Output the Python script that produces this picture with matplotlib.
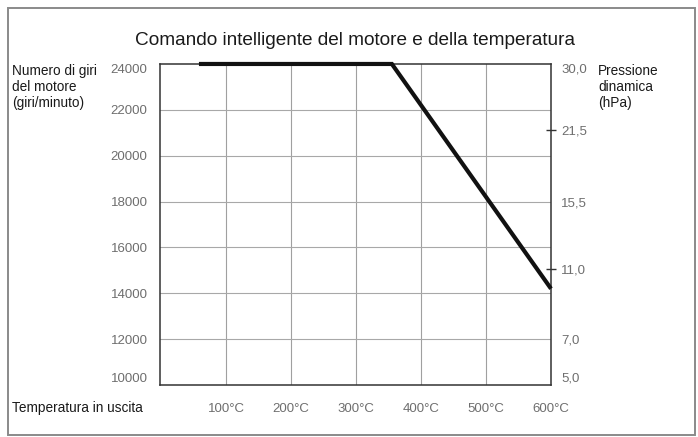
import matplotlib.pyplot as plt
from matplotlib.patches import Rectangle

# data
temp = [58, 355, 600]              # outlet temperature, deg C
rpm = [24000, 24000, 14200]        # motor speed, rpm

x_ticks = [100, 200, 300, 400, 500, 600]
x_labels = ["100°C", "200°C", "300°C", "400°C", "500°C", "600°C"]
y_ticks = [10000, 12000, 14000, 16000, 18000, 20000, 22000, 24000]

# dynamic pressure scale (right), placed at the rpm it lines up with
p_pos = [24000, 21100, 18000, 15050, 12000, 10000]
p_labels = ["30,0", "21,5", "15,5", "11,0", "7,0", "5,0"]
p_marked = ["21,5", "11,0"]

plt.rcParams["font.family"] = ["Liberation Sans", "DejaVu Sans"]
grey_txt = "#6e6e6e"

fig = plt.figure(figsize=(6.98, 4.37), dpi=100)
ax = fig.add_axes([0.2292, 0.119, 0.5602, 0.7346])

ax.plot(temp, rpm, color="#111111", lw=3.0, solid_capstyle="butt",
        solid_joinstyle="miter", clip_on=False, zorder=5)

ax.set_xlim(-2, 600)
ax.set_ylim(10000, 24000)
ax.set_xticks(x_ticks)
ax.set_xticklabels(x_labels)
ax.set_yticks(y_ticks)
ax.set_yticklabels([str(v) for v in y_ticks])
ax.tick_params(axis="both", length=0, labelsize=9.5, labelcolor=grey_txt)
ax.tick_params(axis="x", pad=13)
ax.tick_params(axis="y", pad=9)

# grid only at interior positions
for t in x_ticks[:-1]:
    ax.axvline(t, color="#a0a0a0", lw=0.8, zorder=1)
for t in y_ticks[1:-1]:
    ax.axhline(t, color="#a8a8a8", lw=0.8, zorder=1)

for s in ax.spines.values():
    s.set_color("#333333")
    s.set_linewidth(1.1)

ax2 = ax.twinx()
ax2.set_ylim(ax.get_ylim())
ax2.set_yticks(p_pos)
ax2.set_yticklabels(p_labels)
ax2.tick_params(axis="y", direction="inout", length=7, width=1.0,
                color="#333333", labelsize=9.5, labelcolor=grey_txt, pad=4)
for tick, lab in zip(ax2.yaxis.get_major_ticks(), p_labels):
    if lab not in p_marked:
        tick.tick2line.set_visible(False)
for s in ax2.spines.values():
    s.set_visible(False)

# end labels sit inside the frame, as in the original
ax.get_yticklabels()[0].set_va("bottom")
ax.get_yticklabels()[-1].set_va("top")
ax2.get_yticklabels()[0].set_va("top")
ax2.get_yticklabels()[-1].set_va("bottom")

fig.text(0.509, 0.907, "Comando intelligente del motore e della temperatura",
         ha="center", va="center", fontsize=13.7, color="#1a1a1a")

fig.text(0.017, 0.801, "Numero di giri\ndel motore\n(giri/minuto)",
         ha="left", va="center", fontsize=9.8, color="#1a1a1a", linespacing=1.17)
fig.text(0.857, 0.801, "Pressione\ndinamica\n(hPa)",
         ha="left", va="center", fontsize=9.8, color="#1a1a1a", linespacing=1.17)
fig.text(0.017, 0.066, "Temperatura in uscita",
         ha="left", va="center", fontsize=9.8, color="#1a1a1a")

# outer frame
fig.patches.append(Rectangle((8 / 698, 2 / 437), 687 / 698, 427 / 437,
                             transform=fig.transFigure, fill=False,
                             edgecolor="#8a8a8a", lw=1.4))

fig.savefig("out.png", dpi=100)
